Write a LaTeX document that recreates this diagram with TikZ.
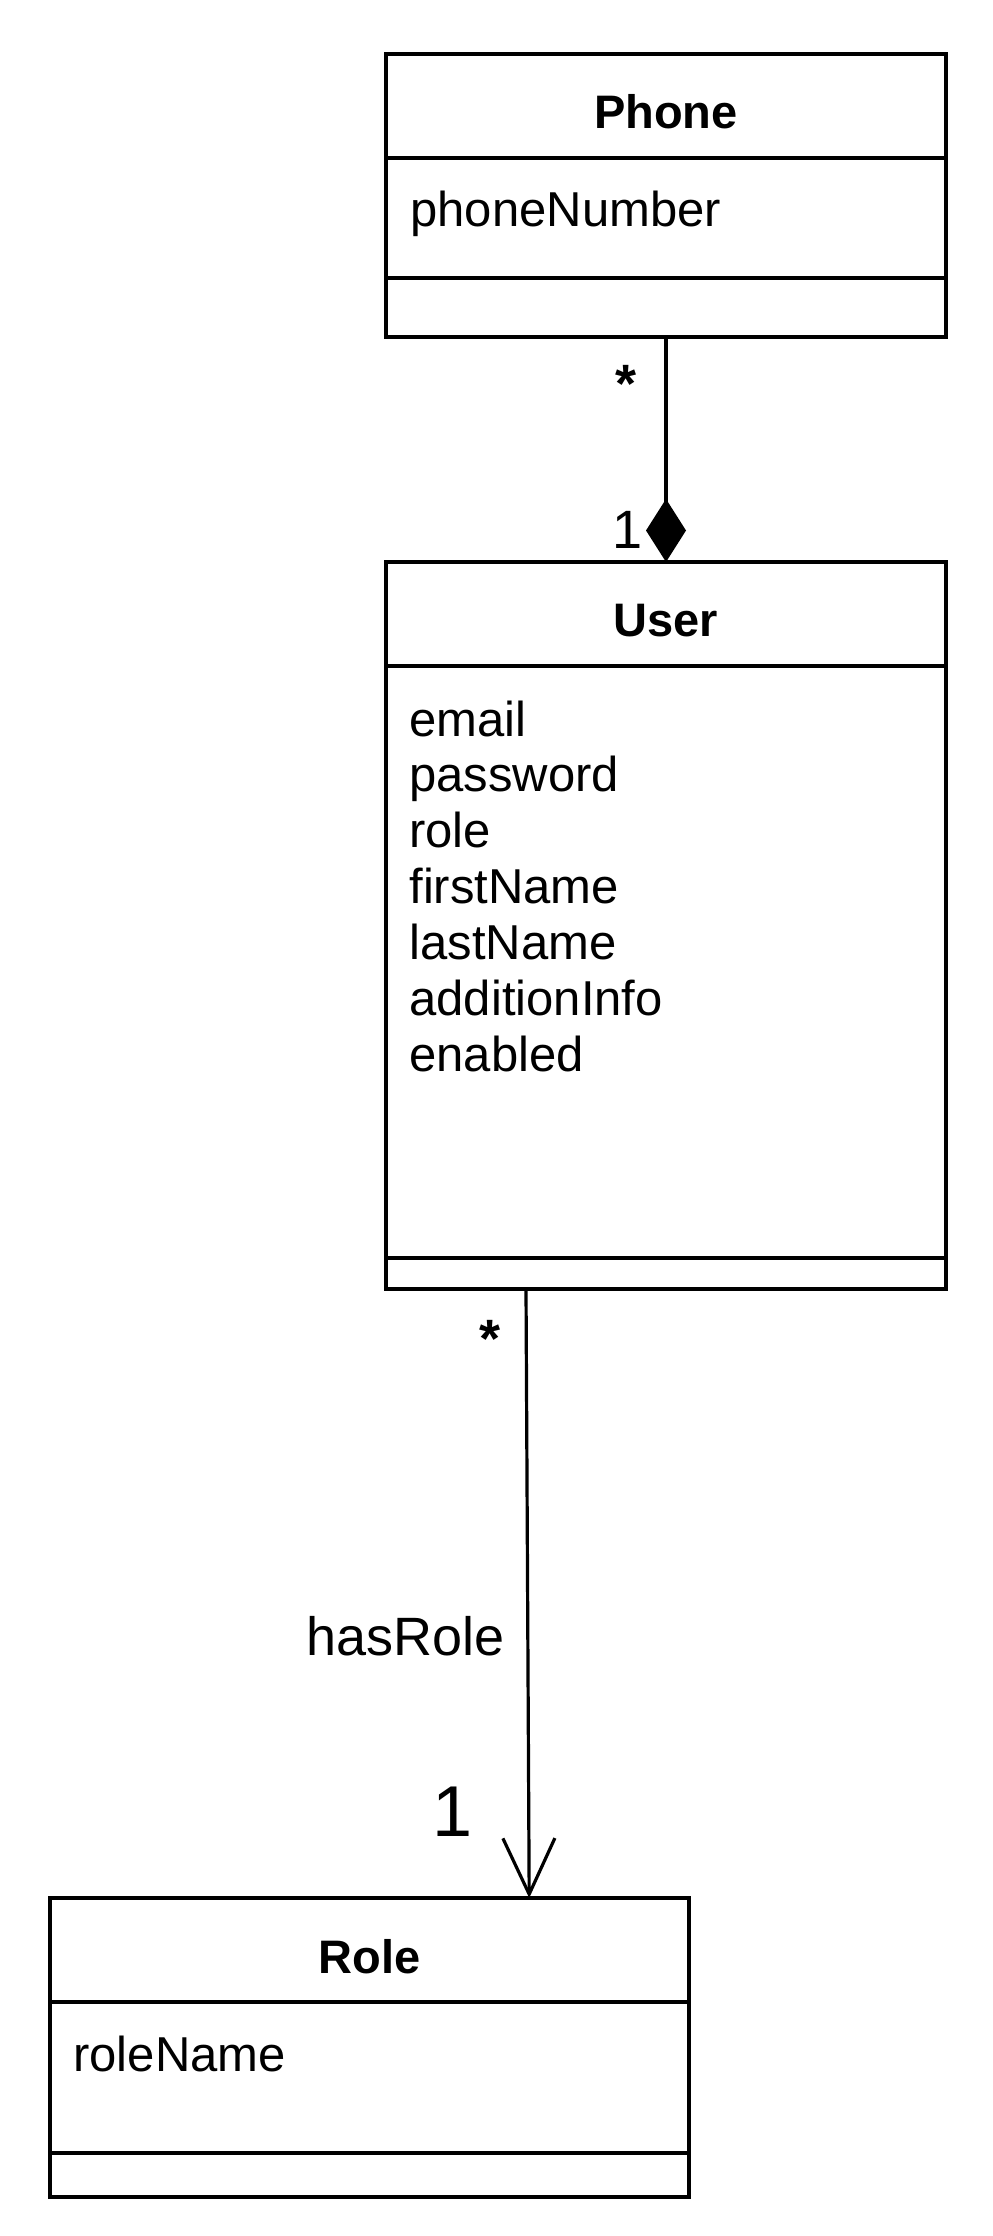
\documentclass[tikz,border=0pt]{standalone}
\usepackage{fontspec}
\setmainfont{Liberation Sans}
\usetikzlibrary{arrows.meta}

\begin{document}
\begin{tikzpicture}[auto, x=0.5pt, y=-0.5pt,
    classbox/.style={draw, line width=1.65pt, inner sep=0pt, outer sep=0pt},
    sepline/.style={line width=1.65pt},
    title/.style={anchor=base, font=\fontsize{23.5}{28}\selectfont\bfseries},
    attr/.style={anchor=base west, inner sep=0pt, font=\fontsize{24.5}{29}\selectfont},
    mult/.style={anchor=base, font=\fontsize{27}{32}\selectfont},
    link/.style={line width=1.6pt}]
    \useasboundingbox (0,0) rectangle (992,2236);
    \node[classbox, minimum width=280pt, minimum height=141.5pt] (phone) at (666,195.5) {};
    \node[classbox, minimum width=280pt, minimum height=363.5pt] (user) at (666,925.5) {};
    \node[classbox, minimum width=319.5pt, minimum height=149.5pt] (role) at (369.5,2047.5) {};
    % compartments
    \draw[sepline] ([yshift=-52pt]phone.north west) -- ([yshift=-52pt]phone.north east);
    \draw[sepline] ([yshift=29.5pt]phone.south west) -- ([yshift=29.5pt]phone.south east);
    \draw[sepline] ([yshift=-52pt]user.north west) -- ([yshift=-52pt]user.north east);
    \draw[sepline] ([yshift=15.5pt]user.south west) -- ([yshift=15.5pt]user.south east);
    \draw[sepline] ([yshift=-52pt]role.north west) -- ([yshift=-52pt]role.north east);
    \draw[sepline] ([yshift=22pt]role.south west) -- ([yshift=22pt]role.south east);
    % texts
    \node[title] (phonename) at (666,129) {Phone};
    \node[attr] (phonenum) at (410,227) {phoneNumber};
    \node[title] (username) at (666,636) {User};
    \foreach \a [count=\i from 0] in {email,password,role,firstName,lastName,additionInfo,enabled}
      \node[attr] (userattr\i) at (409,{736+55.9*\i}) {\a};
    \node[title] (rolename) at (369.5,1973) {Role};
    \node[attr] (rolefield) at (73,2071) {roleName};
    % associations
    \draw[link, -{Diamond[length=31.5pt, width=20pt]}] (phone.south) -- (user.north);
    \node[mult] (m1) at (626,402) {\bfseries *};
    \node[mult] (m2) at (628,548) {1};
    \draw[link, -{Straight Barb[length=28pt, width=26pt]}] ([xshift=70pt]user.south west)
      to node[pos=0.57, left, inner sep=11pt, font=\fontsize{27}{32}\selectfont] {hasRole}
      ([xshift=239.6pt]role.north west);
    \node[mult] (m3) at (490,1357) {\bfseries *};
    \node[mult, font=\fontsize{36}{40}\selectfont] (m4) at (453,1836) {1};
  \end{tikzpicture}
\end{document}
